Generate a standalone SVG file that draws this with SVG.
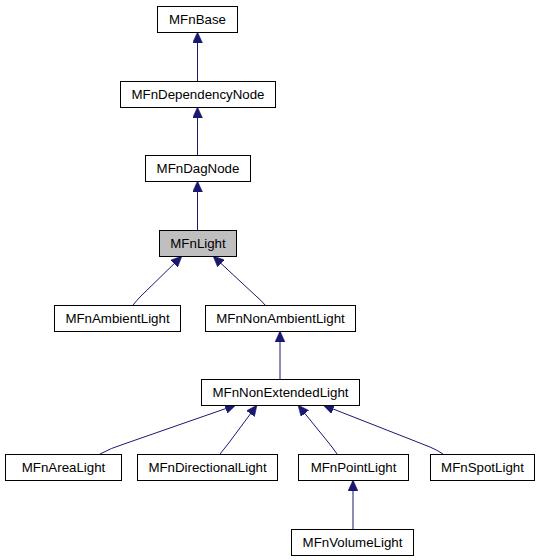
<svg xmlns="http://www.w3.org/2000/svg" width="538" height="560" viewBox="0 0 538 560">
<style>
.n rect{fill:#ffffff;stroke:#000000;stroke-width:1}
.n.cur rect{fill:#bfbfbf}
.n text{font-family:"Liberation Sans",Arial,sans-serif;font-size:13.3px;fill:#000000;text-anchor:middle}
.e path{fill:none;stroke:#191970;stroke-width:1;marker-end:url(#arr)}
</style>
<defs>
<marker id="arr" markerWidth="11" markerHeight="10" refX="11" refY="5" orient="auto" markerUnits="userSpaceOnUse">
<path d="M0,0 L11,5 L0,10 z" fill="#191970" stroke="#191970" stroke-width="0.5"/>
</marker>
</defs>
<rect width="538" height="560" fill="#ffffff"/>
<g id="edges" class="e">
<path d="M197.5,81 L197.5,32"/>
<path d="M197.5,155 L197.5,107"/>
<path d="M197.5,230 L197.5,181"/>
<path d="M133,305 Q137,300 141,296 L182,256"/>
<path d="M265,305 Q261,300 256,296 L213,256"/>
<path d="M280,379 L280,331"/>
<path d="M100,454 Q111,448 124,444 L236,405"/>
<path d="M220,454 Q224,449 228,444 L257,405"/>
<path d="M337,454 Q333,448 328,442 L298,405"/>
<path d="M443,454 Q437,450 430,447 L323,405"/>
<path d="M353,529 L353,480"/>
</g>
<g id="MFnBase" class="n"><rect x="157.5" y="6.5" width="80" height="26"/><text x="197.5" y="24">MFnBase</text></g>
<g id="MFnDependencyNode" class="n"><rect x="120.5" y="81.5" width="155" height="26"/><text x="198" y="99">MFnDependencyNode</text></g>
<g id="MFnDagNode" class="n"><rect x="145.5" y="155.5" width="105" height="26"/><text x="198" y="173">MFnDagNode</text></g>
<g id="MFnLight" class="n cur"><rect x="159.5" y="230.5" width="77" height="26"/><text x="198" y="248">MFnLight</text></g>
<g id="MFnAmbientLight" class="n"><rect x="54.5" y="305.5" width="126" height="26"/><text x="117.5" y="323">MFnAmbientLight</text></g>
<g id="MFnNonAmbientLight" class="n"><rect x="205.5" y="305.5" width="150" height="26"/><text x="280.5" y="323">MFnNonAmbientLight</text></g>
<g id="MFnNonExtendedLight" class="n"><rect x="201.5" y="379.5" width="158" height="26"/><text x="280.5" y="397">MFnNonExtendedLight</text></g>
<g id="MFnAreaLight" class="n"><rect x="5.5" y="454.5" width="116" height="26"/><text x="63.5" y="472">MFnAreaLight</text></g>
<g id="MFnDirectionalLight" class="n"><rect x="137.5" y="454.5" width="140" height="26"/><text x="207.5" y="472">MFnDirectionalLight</text></g>
<g id="MFnPointLight" class="n"><rect x="298.5" y="454.5" width="110" height="26"/><text x="353.5" y="472">MFnPointLight</text></g>
<g id="MFnSpotLight" class="n"><rect x="430.5" y="454.5" width="104" height="26"/><text x="482.5" y="472">MFnSpotLight</text></g>
<g id="MFnVolumeLight" class="n"><rect x="291.5" y="529.5" width="122" height="26"/><text x="352.5" y="547">MFnVolumeLight</text></g>
</svg>
